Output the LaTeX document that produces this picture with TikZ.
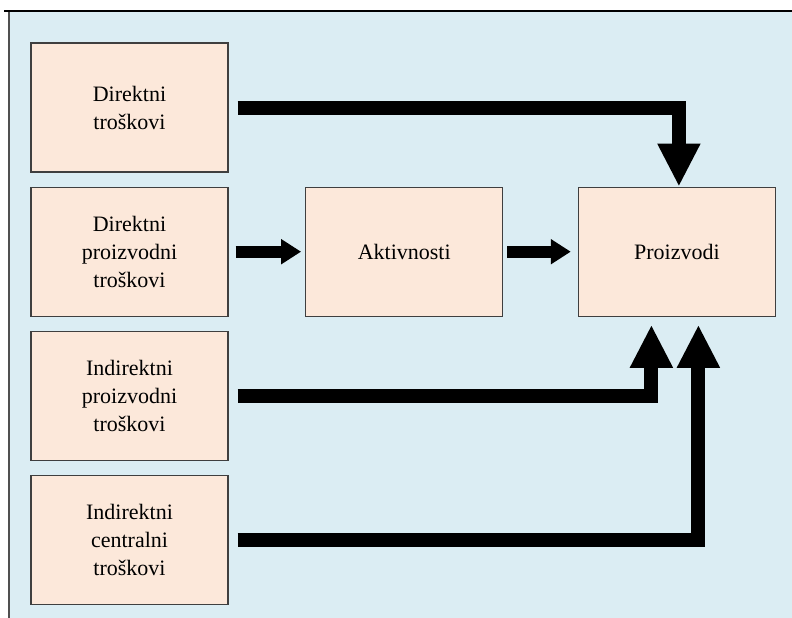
\documentclass[tikz,border=0pt]{standalone}
\usepackage{fontspec}
\setmainfont{Liberation Serif}
\usetikzlibrary{positioning,arrows.meta}
\definecolor{bgblue}{HTML}{DBEDF3}
\definecolor{boxfill}{HTML}{FCE8DA}
\definecolor{boxline}{HTML}{3F3F3F}
\definecolor{frameline}{HTML}{505050}

\begin{document}
\begin{tikzpicture}[
    x=1pt, y=-1pt, node distance=14pt and 76.5pt,
    box/.style={
      draw=boxline, fill=boxfill, line width=1.2pt, align=center,
      minimum width=197pt, minimum height=129pt,
      font=\fontsize{22}{28}\selectfont},
    flow/.style={line width=14pt, -{Triangle[width=40pt,length=43pt]}},
    feed/.style={line width=12pt, -{Triangle[width=24pt,length=20pt]}}]
  \useasboundingbox (0,0) rectangle (792,618);
  \fill[bgblue] (9,11) rectangle (792,618);
  \draw[line width=2pt] (4,11) -- (792,11);
  \draw[frameline, line width=2pt] (9,12) -- (9,618);

  \node[box] (dir) at (129.5,107.5) {Direktni\\troškovi};
  \node[box, below=of dir] (dirpro) {Direktni\\proizvodni\\troškovi};
  \node[box, below=of dirpro] (indpro) {Indirektni\\proizvodni\\troškovi};
  \node[box, below=of indpro] (indcen) {Indirektni\\centralni\\troškovi};
  \node[box, right=of dirpro] (akt) {Aktivnosti};
  \node[box, right=74.5pt of akt] (proiz) {Proizvodi};

  \draw[feed] ([xshift=7pt]dirpro.east) -- ([xshift=-4pt]akt.west);
  \draw[feed] ([xshift=4pt]akt.east) -- ([xshift=-7pt]proiz.west);

  \draw[flow] ([xshift=9pt]dir.east) -| ([xshift=2pt]proiz.north);
  \draw[flow] ([xshift=9pt]indpro.east) -| ([xshift=-25.5pt,yshift=-8pt]proiz.south);
  \draw[flow] ([xshift=9pt]indcen.east) -| ([xshift=21.5pt,yshift=-8pt]proiz.south);
\end{tikzpicture}
\end{document}
